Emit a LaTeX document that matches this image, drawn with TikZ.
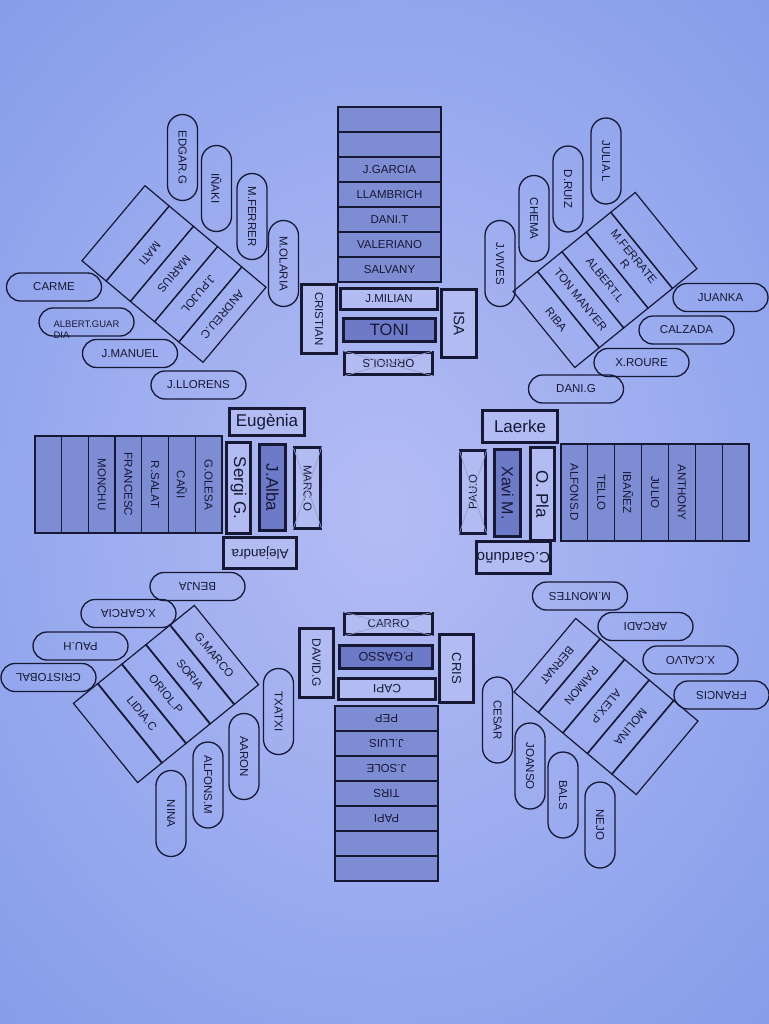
\documentclass[tikz,border=0pt]{standalone}
\usepackage{fontspec}
\setmainfont{Liberation Sans}
\definecolor{bgin}{RGB}{180,188,244}
\definecolor{bgout}{RGB}{132,156,234}
\definecolor{cell}{RGB}{126,140,212}
\definecolor{dark}{RGB}{108,122,200}
\definecolor{lite}{RGB}{178,188,242}
\definecolor{ink}{RGB}{22,24,52}
\definecolor{xline}{RGB}{150,156,205}
\newcommand\fsz[1]{\fontsize{#1}{#1}\selectfont}
\tikzset{
  hcell/.style={draw=ink,line width=1.2pt,fill=cell,text=ink,inner sep=0pt,minimum width=103pt,minimum height=25pt,font=\fsz{11.5}},
  vcell/.style={draw=ink,line width=1.2pt,fill=cell,text=ink,inner sep=0pt,minimum width=97pt,minimum height=26.8pt,rotate=-90,font=\fsz{11.5}},
  pill/.style={draw=ink,line width=1.3pt,text=ink,rounded corners=14pt,inner sep=0pt,minimum width=95pt,minimum height=28pt,font=\fsz{11.5}},
  vpill/.style={pill,minimum width=86pt,minimum height=30pt,rounded corners=15pt,rotate=-90},
  strip/.style={draw=ink,line width=1.2pt,text=ink,inner sep=0pt,minimum width=98pt,minimum height=31.6pt,rotate=-90,align=center,font=\fsz{11.5}},
  boldbox/.style={draw=ink,line width=3.5pt,text=ink,inner sep=0pt},
  litebox/.style={boldbox,fill=lite},
  darkbox/.style={boldbox,fill=dark},
  crossx/.style={draw=xline,line width=0.7pt,shorten >=2.5pt,shorten <=2.5pt}
}
\begin{document}
\begin{tikzpicture}[x=1pt,y=1pt]
\useasboundingbox (0,0) rectangle (768,-1024);
\fill[inner color=bgin,outer color=bgout] (-200,200) rectangle (968,-1224);

% ---------- top centre ----------
\foreach \i/\t in {1/{},2/{},3/J.GARCIA,4/LLAMBRICH,5/DANI.T,6/VALERIANO,7/SALVANY}
  \node[hcell] (top\i) at (389.5,{-94.5-25*\i}) {\t};
\node[litebox,minimum width=97pt,minimum height=21pt,font=\fsz{11.5}] (jmilian) at (389,-299) {J.MILIAN};
\node[darkbox,minimum width=92pt,minimum height=23pt,font=\fsz{16.5}] (toni) at (389.5,-330) {TONI};
\node[litebox,minimum width=88pt,minimum height=22pt,rotate=180,font=\fsz{11.5}] (orriols) at (388.5,-363.5) {ORRIOLS};
\draw[crossx] (orriols.north west) -- (orriols.south east) (orriols.north east) -- (orriols.south west);
\node[litebox,minimum width=69pt,minimum height=35pt,rotate=-90,font=\fsz{11.5}] (cristian) at (319,-319) {CRISTIAN};
\node[litebox,minimum width=68pt,minimum height=35pt,rotate=-90,font=\fsz{15}] (isa) at (459,-323.5) {ISA};

% ---------- bottom centre ----------
\node[litebox,minimum width=88pt,minimum height=21pt,font=\fsz{11.5}] (carro) at (388.5,-624) {CARRO};
\draw[crossx] (carro.north west) -- (carro.south east) (carro.north east) -- (carro.south west);
\node[litebox,minimum width=69pt,minimum height=34pt,rotate=-90,font=\fsz{12}] (davidg) at (316.5,-663) {DAVID.G};
\node[darkbox,minimum width=93pt,minimum height=23pt,rotate=180,font=\fsz{12.5}] (pgasso) at (386,-657) {P.GASSO};
\node[litebox,minimum width=97pt,minimum height=21pt,rotate=180,font=\fsz{12}] (capi) at (387,-689) {CAPI};
\node[litebox,minimum width=68pt,minimum height=34pt,rotate=-90,font=\fsz{13}] (cris) at (456.5,-668.5) {CRIS};
\foreach \i/\t in {1/PEP,2/J.LUIS,3/J.SOLE,4/TIRS,5/PAPI,6/{},7/{}}
  \node[hcell,rotate=180] (bot\i) at (386.5,{-693.5-25*\i}) {\t};

% ---------- left middle ----------
\foreach \i/\t in {1/{},2/{},3/MONCHU,4/FRANCESC,5/R.SALAT,6/CAÑI,7/G.OLESA}
  \node[vcell] (lt\i) at ({21.65+26.7*\i},-484.5) {\t};
\node[litebox,minimum width=75pt,minimum height=27pt,font=\fsz{17}] (eugenia) at (267,-422) {Eugènia};
\node[litebox,minimum width=91pt,minimum height=24pt,rotate=-90,font=\fsz{17}] (sergi) at (238.5,-488) {Sergi G.};
\node[darkbox,minimum width=86pt,minimum height=26pt,rotate=-90,font=\fsz{17}] (jalba) at (272.5,-487.5) {J.Alba};
\node[litebox,minimum width=81pt,minimum height=26pt,rotate=-90,font=\fsz{11.5}] (marco) at (307.5,-488) {MARC.O};
\draw[crossx] (marco.north west) -- (marco.south east) (marco.north east) -- (marco.south west);
\node[litebox,minimum width=73pt,minimum height=31pt,rotate=180,font=\fsz{13.5}] (alejandra) at (260,-553) {Alejandra};

% ---------- right middle ----------
\node[litebox,minimum width=75pt,minimum height=32pt,font=\fsz{17}] (laerke) at (520,-426.5) {Laerke};
\node[litebox,minimum width=83pt,minimum height=25pt,rotate=90,font=\fsz{11.5}] (pauo) at (473,-492) {PAU.O};
\draw[crossx] (pauo.north west) -- (pauo.south east) (pauo.north east) -- (pauo.south west);
\node[darkbox,minimum width=87pt,minimum height=26pt,rotate=-90,font=\fsz{16}] (xavim) at (507.5,-493) {Xavi M.};
\node[litebox,minimum width=93pt,minimum height=24pt,rotate=-90,font=\fsz{17}] (opla) at (542.5,-494) {O. Pla};
\foreach \i/\t in {1/ALFONS.D,2/TELLO,3/IBAÑEZ,4/JULIO,5/ANTHONY,6/{},7/{}}
  \node[vcell,minimum height=26.9pt] (rt\i) at ({547.57+26.86*\i},-492.5) {\t};
\node[litebox,minimum width=74pt,minimum height=32pt,rotate=180,font=\fsz{15}] (garduno) at (513.5,-557.5) {C.Garduño};

% ---------- top-left cluster ----------
\begin{scope}[shift={(174,-274)},rotate=-40,transform shape]
  \foreach \i/\t in {1/{},2/MATI,3/MARIUS,4/J.PUJOL,5/ANDREU.C}
    \node[strip] (tl\i) at ({31.6*(\i-3)},0) {\t};
\end{scope}
\node[vpill] (edgar) at (182.5,-157.5) {EDGAR.G};
\node[vpill] (inaki) at (216.5,-188.5) {IÑAKI};
\node[vpill] (mferrer) at (252,-216.5) {M.FERRER};
\node[vpill] (molaria) at (283.5,-263.5) {M.OLARIA};
\node[pill] (carme) at (54,-287) {CARME};
\node[pill,font=\fsz{9.5}] (albert) at (86.5,-322)
  {\raisebox{-16pt}[0pt][0pt]{\fontsize{9.5}{11}\selectfont\begin{tabular}[b]{@{}l@{}}ALBERT.GUAR\\DIA\end{tabular}}};
\node[pill] (jmanuel) at (130,-353.5) {J.MANUEL};
\node[pill] (jllorens) at (198.5,-385) {J.LLORENS};

% ---------- top-right cluster ----------
\begin{scope}[shift={(605,-280)},rotate=39,transform shape]
  \foreach \i/\t in {1/RIBA,2/TON MANYER,3/ALBERT.L,4/{M.FERRATE\\R},5/{}}
    \node[strip] (tr\i) at ({31.4*(\i-3)},0) {\t};
\end{scope}
\node[vpill] (jvives) at (500,-263.5) {J.VIVES};
\node[vpill] (chema) at (534,-218.5) {CHEMA};
\node[vpill] (druiz) at (568,-189) {D.RUIZ};
\node[vpill] (julial) at (606,-161) {JULIA.L};
\node[pill] (juanka) at (720.5,-297.5) {JUANKA};
\node[pill] (calzada) at (686.5,-330) {CALZADA};
\node[pill] (xroure) at (641.5,-362.5) {X.ROURE};
\node[pill] (danig) at (576,-389) {DANI.G};

% ---------- bottom-left cluster ----------
\begin{scope}[shift={(166,-694)},rotate=39,transform shape]
  \foreach \i/\t in {1/{},2/LIDIA.C,3/ORIOL.P,4/SORIA,5/G.MARCO}
    \node[strip,minimum width=102pt] (bl\i) at ({31*(\i-3)},0) {\t};
\end{scope}
\node[pill,rotate=180] (benja) at (197.5,-586.5) {BENJA};
\node[pill,rotate=180] (xgarcia) at (128.5,-613.5) {X.GARCIA};
\node[pill,rotate=180] (pauh) at (80.5,-646) {PAU.H};
\node[pill,rotate=180] (cristobal) at (48.5,-677.5) {CRISTOBAL};
\node[vpill] (txatxi) at (278.5,-711.5) {TXATXI};
\node[vpill] (aaron) at (244,-756.5) {AARON};
\node[vpill] (alfonsm) at (208,-785) {ALFONS.M};
\node[vpill] (nina) at (171,-813.5) {NINA};

% ---------- bottom-right cluster ----------
\begin{scope}[shift={(606,-706.5)},rotate=-40,transform shape]
  \foreach \i/\t in {1/BERNAT,2/RAIMON,3/ALEX.P,4/MOLINA,5/{}}
    \node[strip,minimum width=96pt] (br\i) at ({32*(\i-3)},0) {\t};
\end{scope}
\node[pill,rotate=180] (mmontes) at (580,-596) {M.MONTES};
\node[pill,rotate=180] (arcadi) at (645.5,-626.5) {ARCADI};
\node[pill,rotate=180] (xcalvo) at (690.5,-660) {X.CALVO};
\node[pill,rotate=180] (francis) at (721.5,-695) {FRANCIS};
\node[vpill] (cesar) at (497.5,-720) {CESAR};
\node[vpill] (joanso) at (530,-766) {JOANSO};
\node[vpill] (bals) at (563,-795) {BALS};
\node[vpill] (nejo) at (600,-825) {NEJO};
\end{tikzpicture}
\end{document}
